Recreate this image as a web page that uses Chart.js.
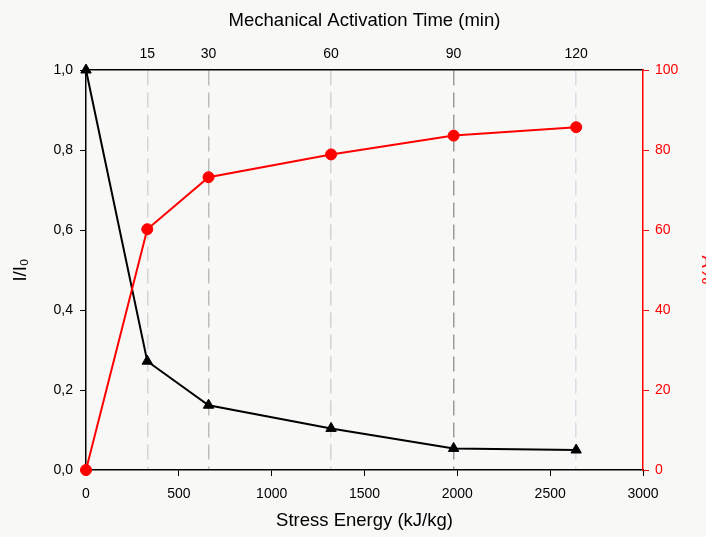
<!DOCTYPE html>
<html>
<head>
<meta charset="utf-8">
<script src="https://cdn.jsdelivr.net/npm/chart.js@4.4.0/dist/chart.umd.min.js"></script>
<style>
body { margin: 0; background: #fff; }
#wrap { width: 706px; height: 537px; }
</style>
</head>
<body>
<div id="wrap"><canvas id="grafico"></canvas></div>
<script>
// tiempo de activacion (min) y energia de estres equivalente (kJ/kg)
var minutos = [0, 15, 30, 60, 90, 120];
var energia = [0, 330, 660, 1320, 1980, 2640];
// intensidad relativa I/I0 y porcentaje amorfo
var intensidad = [1.0, 0.272, 0.162, 0.104, 0.054, 0.05];
var amorfo = [0, 60.2, 73.2, 78.9, 83.6, 85.7];
// marcas de los ejes
var ticksEnergia = [0, 500, 1000, 1500, 2000, 2500, 3000];
var ticksIntensidad = [0, 0.2, 0.4, 0.6, 0.8, 1.0];
var ticksAmorfo = [0, 20, 40, 60, 80, 100];

Chart.defaults.font.family = "'Liberation Sans', Arial, sans-serif";
Chart.defaults.font.size = 14;
Chart.defaults.color = '#000';

function puntos(ys) {
    return energia.map(function(x, i) { return {x: x, y: ys[i]}; });
}
function fijarTicks(valores) {
    return function(axis) { axis.ticks = valores.map(function(v) { return {value: v}; }); };
}
function fijarAncho(w) { return function(axis) { axis.width = w; }; }
function fijarAlto(h) { return function(axis) { axis.height = h; }; }

// tonos de las lineas discontinuas verticales
var grisLineas = ['#d4d4d4', '#bcbcbc', '#d2d2d2', '#9c9c9c', '#dcdce4'];

var fondo = {
    id: 'fondo',
    beforeDraw: function(chart) {
        var ctx = chart.ctx;
        ctx.save();
        ctx.fillStyle = '#f8f8f7';
        ctx.fillRect(0, 0, chart.width, chart.height);
        ctx.restore();
    }
};

var ctx = document.getElementById('grafico').getContext('2d');
var chart = new Chart(ctx, {
    type: 'line',
    data: {
        datasets: [{
            label: 'A%',
            data: puntos(amorfo),
            yAxisID: 'yDer',
            xAxisID: 'x',
            borderColor: '#ff0000',
            backgroundColor: '#ff0000',
            borderWidth: 2,
            pointStyle: 'circle',
            pointRadius: 5.5,
            pointBorderWidth: 1,
            clip: false
        }, {
            label: 'I/I0',
            data: puntos(intensidad),
            yAxisID: 'y',
            xAxisID: 'x',
            borderColor: '#000',
            backgroundColor: '#000',
            borderWidth: 2,
            pointStyle: 'triangle',
            pointRadius: 6,
            pointBorderWidth: 1,
            clip: false
        }]
    },
    options: {
        responsive: true,
        maintainAspectRatio: false,
        animation: false,
        layout: { padding: 0 },
        plugins: { legend: { display: false }, tooltip: { enabled: false } },
        scales: {
            x: {
                type: 'linear',
                position: 'bottom',
                min: 0, max: 3000,
                afterBuildTicks: fijarTicks(ticksEnergia),
                afterFit: fijarAlto(67),
                grid: { drawOnChartArea: false, tickLength: 6, tickColor: '#000' },
                border: { color: '#000', width: 1.5 },
                ticks: {
                    padding: 10, maxRotation: 0,
                    callback: function(v) { return String(v); }
                },
                title: { display: true, text: 'Stress Energy (kJ/kg)', font: { size: 18.5 }, padding: { top: 0, bottom: 5 } }
            },
            xTop: {
                type: 'linear',
                position: 'top',
                min: 0, max: 3000,
                afterBuildTicks: fijarTicks(energia.slice(1)),
                afterFit: fijarAlto(70),
                grid: {
                    drawTicks: false,
                    lineWidth: 1.5,
                    color: function(c) { return grisLineas[c.index] || '#ccc'; }
                },
                border: { color: '#000', width: 1.5, dash: [15, 7] },
                ticks: {
                    padding: 7, maxRotation: 0,
                    callback: function(v) { return minutos[energia.indexOf(v)]; }
                },
                title: { display: true, text: 'Mechanical Activation Time (min)', font: { size: 18.5 }, padding: { top: 10, bottom: 0 } }
            },
            y: {
                type: 'linear',
                position: 'left',
                min: 0, max: 1,
                afterBuildTicks: fijarTicks(ticksIntensidad),
                afterFit: fijarAncho(86),
                grid: { drawOnChartArea: false, tickLength: 6, tickColor: '#000' },
                border: { color: '#000', width: 1.5 },
                ticks: {
                    padding: 7,
                    callback: function(v) { return v.toFixed(1).replace('.', ','); }
                },
                title: { display: true, text: 'I/I\u2080', font: { size: 18.5 }, padding: { top: 10, bottom: 0 } }
            },
            yDer: {
                type: 'linear',
                position: 'right',
                min: 0, max: 100,
                afterBuildTicks: fijarTicks(ticksAmorfo),
                afterFit: fijarAncho(63),
                grid: { drawOnChartArea: false, tickLength: 6, tickColor: '#ff0000' },
                border: { color: '#ff0000', width: 1.5 },
                ticks: { padding: 6, color: '#ff0000' },
                title: { display: true, text: 'A%', color: '#ff0000', font: { size: 18.5 }, padding: { top: -12, bottom: 0 } }
            }
        }
    },
    plugins: [fondo]
});
</script>
</body>
</html>
